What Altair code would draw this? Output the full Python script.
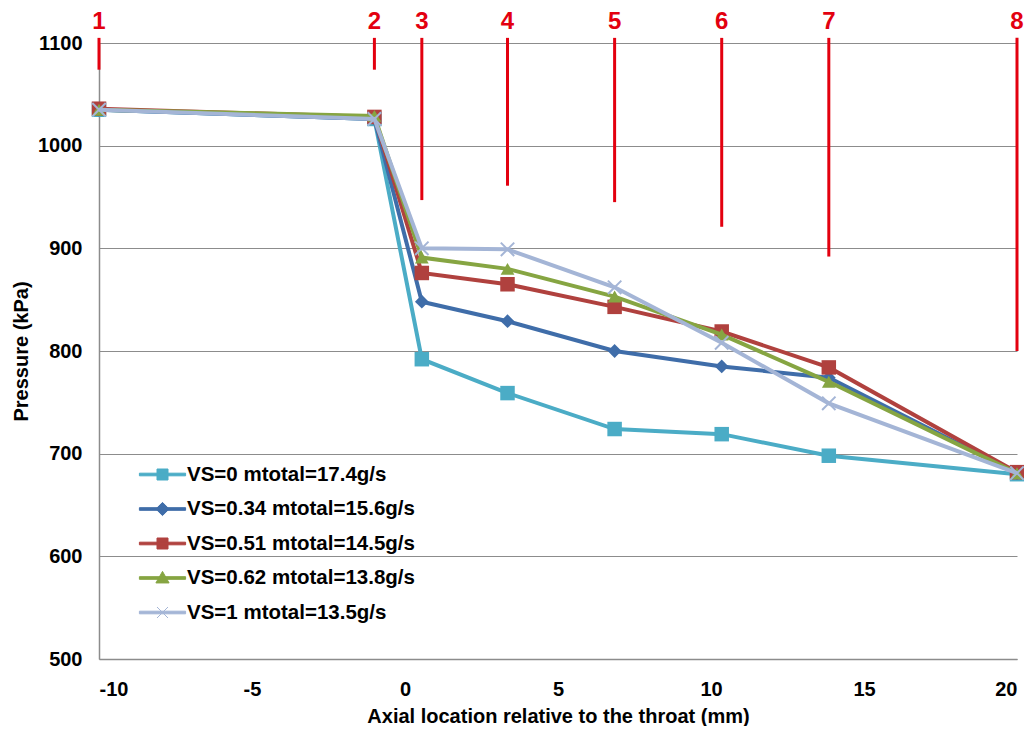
import altair as alt
import pandas as pd

# ---- data ----
x_pos = [-10, -1, 0.55, 3.35, 6.85, 10.35, 13.85, 20]
series_names = [
    "VS=0 mtotal=17.4g/s",
    "VS=0.34 mtotal=15.6g/s",
    "VS=0.51 mtotal=14.5g/s",
    "VS=0.62 mtotal=13.8g/s",
    "VS=1 mtotal=13.5g/s",
]
p_vs0 = [1035, 1026, 792, 759, 724, 719, 698, 680]
p_vs034 = [1035, 1026, 848, 829, 800, 785, 774, 681]
p_vs051 = [1036, 1028, 876, 865, 843, 819, 784, 682]
p_vs062 = [1035, 1029, 891, 880, 853, 816, 770, 681]
p_vs1 = [1035, 1026, 900, 899, 862, 808, 749, 681]

station_labels = ["1", "2", "3", "4", "5", "6", "7", "8"]
station_top = [1105, 1105, 1105, 1105, 1105, 1105, 1105, 1105]
station_bottom = [1074, 1074, 947, 961, 945, 921, 892, 800]
label_level = 1120

x_ticks = [-10, -5, 0, 5, 10, 15, 20]
y_ticks = [500, 600, 700, 800, 900, 1000, 1100]

# ---- styles ----
colors = ["#4BACC6", "#3F6DA9", "#B0413E", "#86A542", "#A4B5D6"]
marker_shapes = ["square", "diamond", "square", "triangle-up", "M-1,-1L1,1M-1,1L1,-1"]
marker_sizes = [210, 190, 210, 190, 180]
RED = "#E3000F"
FONT = "Liberation Sans"

line_rect = "M-2.1,-0.12H2.1V0.12H-2.1Z"
legend_paths = [
    line_rect + "M-0.5,-0.5H0.5V0.5H-0.5Z",
    line_rect + "M0,-0.6L0.6,0L0,0.6L-0.6,0Z",
    line_rect + "M-0.5,-0.5H0.5V0.5H-0.5Z",
    line_rect + "M0,-0.6L0.6,0.45H-0.6Z",
    line_rect + "M-0.5,-0.5L0.5,0.5M-0.5,0.5L0.5,-0.5",
]

all_series = [p_vs0, p_vs034, p_vs051, p_vs062, p_vs1]
rows = []
for name, vals in zip(series_names, all_series):
    for xv, pv in zip(x_pos, vals):
        rows.append({"x": xv, "p": pv, "series": name})
df = pd.DataFrame(rows)

df_st = pd.DataFrame({
    "x": x_pos,
    "top": station_top,
    "bottom": station_bottom,
    "label": station_labels,
})

xenc = alt.X(
    "x:Q",
    scale=alt.Scale(domain=[-10, 20], nice=False, zero=False),
    axis=alt.Axis(values=x_ticks, title="Axial location relative to the throat (mm)",
                  grid=False, labelPadding=20, titlePadding=7,
                  labelExpr="datum.value + ''"),
)
yenc = alt.Y(
    "p:Q",
    scale=alt.Scale(domain=[500, 1100], nice=False, zero=False),
    axis=alt.Axis(values=y_ticks, title="Pressure  (kPa)", grid=True,
                  labelPadding=17, titlePadding=6, labelExpr="datum.value + ''"),
)

base = alt.Chart(df)
layers = []
for name, c, shp, sz in zip(series_names, colors, marker_shapes, marker_sizes):
    sub = base.transform_filter(alt.datum.series == name)
    layers.append(sub.mark_line(color=c, strokeWidth=4).encode(x=xenc, y=yenc))
    if shp.startswith("M"):
        pts = sub.mark_point(shape=shp, filled=False, color=c, size=sz,
                             strokeWidth=2, opacity=1)
    else:
        pts = sub.mark_point(shape=shp, filled=True, color=c, size=sz, opacity=1)
    layers.append(pts.encode(x=xenc, y=yenc))

leg = alt.Legend(
    orient="none", legendX=52, legendY=420, title=None, padding=0,
    labelFont=FONT, labelFontSize=20.5, labelFontWeight="bold", labelColor="black",
    labelLimit=500, symbolSize=484, symbolStrokeWidth=1, symbolOpacity=1,
    labelOffset=13, rowPadding=12.5,
)
legend_layer = base.mark_point(filled=True, opacity=0).encode(
    x=xenc, y=yenc,
    color=alt.Color("series:N", scale=alt.Scale(domain=series_names, range=colors), legend=leg),
    stroke=alt.Stroke("series:N", scale=alt.Scale(domain=series_names, range=colors), legend=leg),
    shape=alt.Shape("series:N", scale=alt.Scale(domain=series_names, range=legend_paths), legend=leg),
)

st = alt.Chart(df_st)
rules = st.mark_rule(color=RED, strokeWidth=3).encode(
    x=alt.X("x:Q"), y=alt.Y("top:Q"), y2="bottom:Q"
)
texts = st.mark_text(color=RED, font=FONT, fontSize=24, fontWeight="bold",
                     baseline="middle", align="center").encode(
    x=alt.X("x:Q"), y=alt.YDatum(label_level), text="label:N"
)

chart = alt.layer(*layers, legend_layer, rules, texts).properties(
    width=918, height=616,
    autosize=alt.AutoSizeParams(type="none"),
    padding={"left": 91, "top": 35, "right": 7, "bottom": 67},
    background="white",
).configure_view(stroke=None).configure_axis(
    labelFont=FONT, labelFontSize=20, labelFontWeight="bold", labelColor="black",
    titleFont=FONT, titleFontSize=20, titleFontWeight="bold", titleColor="black",
    domainColor="#8c8c8c", domainWidth=1.5, gridColor="#8c8c8c", gridWidth=1,
    ticks=False,
)

chart.save("out.html", embed_options={"renderer": "svg", "actions": False})
